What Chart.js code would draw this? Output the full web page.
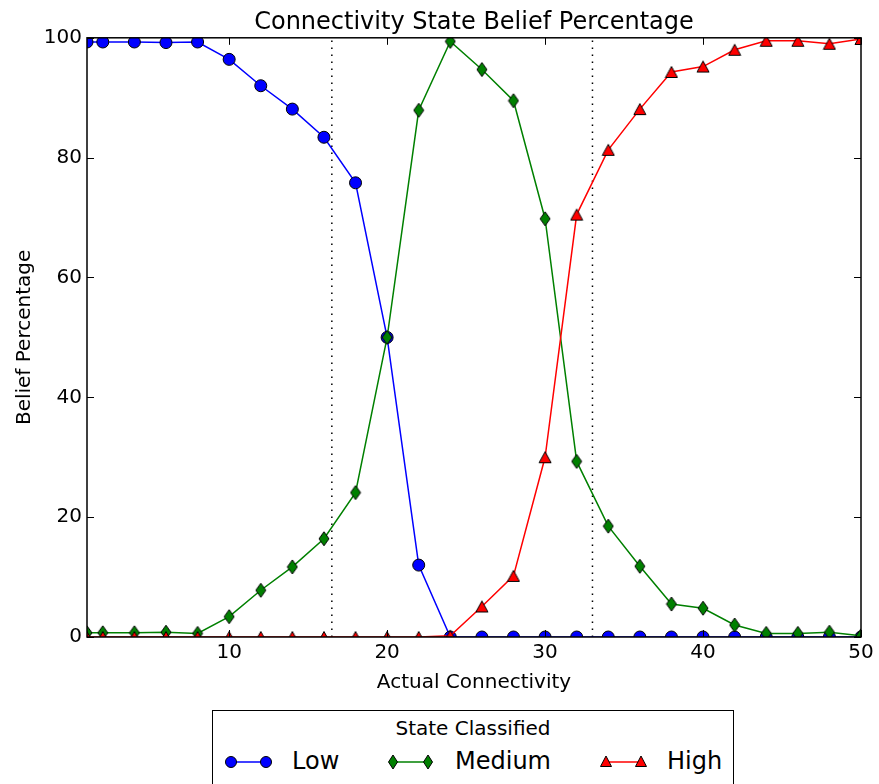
<!DOCTYPE html>
<html>
<head>
<meta charset="utf-8">
<script src="https://cdn.jsdelivr.net/npm/chart.js@4.4.1/dist/chart.umd.min.js"></script>
<style>
  html, body { margin: 0; padding: 0; background: #fff; }
  #wrap { position: relative; width: 879px; height: 784px; overflow: hidden; }
  #legend {
    position: absolute; left: 212px; top: 710px; width: 522px; height: 100px;
    border: 1.5px solid #000; background: #fff; box-sizing: border-box;
    font-family: "DejaVu Sans", sans-serif; color: #000;
  }
  #legend .title { position: absolute; left: 0; right: 0; top: 5px; text-align: center; font-size: 20px; line-height: 24px; }
  #legend .lbl { position: absolute; top: 36px; font-size: 24px; line-height: 29px; }
  #legend svg { position: absolute; left: 0; top: 0; }
</style>
</head>
<body>
<div id="wrap">
  <canvas id="chart" width="879" height="784"></canvas>
  <div id="legend">
    <svg width="522" height="100"></svg>
    <div class="title">State Classified</div>
  </div>
</div>
<script>
(function () {
  const connectivity = [1, 2, 4, 6, 8, 10, 12, 14, 16, 18, 20, 22, 24, 26, 28, 30, 32, 34, 36, 38, 40, 42, 44, 46, 48, 50];
  const lowBelief = [99.3, 99.3, 99.3, 99.2, 99.3, 96.4, 92.0, 88.1, 83.4, 75.8, 50.0, 12.0, 0, 0, 0, 0, 0, 0, 0, 0, 0, 0, 0, 0, 0, 0];
  const mediumBelief = [0.7, 0.7, 0.7, 0.8, 0.6, 3.4, 7.8, 11.7, 16.4, 24.1, 50.0, 87.9, 99.4, 94.7, 89.5, 69.8, 29.3, 18.5, 11.8, 5.5, 4.8, 2.0, 0.6, 0.6, 0.8, 0.2];
  const highBelief = [0, 0, 0, 0, 0, 0, 0, 0, 0, 0, 0, 0, 0.2, 5.1, 10.2, 30.0, 70.5, 81.3, 88.1, 94.3, 95.2, 98.0, 99.5, 99.5, 99.0, 99.8];
  const splitLines = [16.5, 33];
  const xTicks = [10, 20, 30, 40, 50];
  const yTicks = [0, 20, 40, 60, 80, 100];

  const FONT = "'DejaVu Sans', sans-serif";

  // matplotlib-like markers as small canvases
  function marker(kind, fill) {
    const c = document.createElement("canvas");
    const w = kind === "diamond" ? 12 : 14, h = kind === "diamond" ? 16 : 14;
    c.width = w; c.height = h;
    const g = c.getContext("2d");
    g.beginPath();
    if (kind === "diamond") {
      g.moveTo(6, 1); g.lineTo(11, 8); g.lineTo(6, 15); g.lineTo(1, 8);
    } else {
      g.moveTo(7, 1.5); g.lineTo(13, 12.5); g.lineTo(1, 12.5);
    }
    g.closePath();
    g.fillStyle = fill; g.fill();
    g.lineWidth = 1; g.strokeStyle = "#000"; g.stroke();
    return c;
  }

  const pts = (ys) => connectivity.map((x, i) => ({ x: x, y: ys[i] }));

  const datasets = [
    {
      label: "Low", data: pts(lowBelief), borderColor: "#0000ff", borderWidth: 1.5,
      pointStyle: "circle", pointRadius: 6, pointBackgroundColor: "#0000ff",
      pointBorderColor: "#000", pointBorderWidth: 1, clip: 0, order: 3,
    },
    {
      label: "Medium", data: pts(mediumBelief), borderColor: "#008000", borderWidth: 1.5,
      pointStyle: marker("diamond", "#008000"), pointRadius: 7, clip: 0, order: 2,
    },
    {
      label: "High", data: pts(highBelief), borderColor: "#ff0000", borderWidth: 1.5,
      pointStyle: marker("triangle", "#ff0000"), pointRadius: 7, clip: 0, order: 1,
    },
  ];
  splitLines.forEach((v) => {
    datasets.push({
      label: "split", data: [{ x: v, y: 0 }, { x: v, y: 100 }], borderColor: "#000",
      borderWidth: 1.5, borderDash: [1.5, 5.5], pointRadius: 0, clip: 0, order: 10,
    });
  });

  // inward tick marks + frame, like the classic matplotlib axes
  const frame = {
    id: "frame",
    afterLayout(chart) {
      // center the title over the plot area rather than the whole canvas
      const t = chart.titleBlock;
      if (t) {
        t.left = chart.chartArea.left;
        t.right = chart.chartArea.right;
        t.width = t.right - t.left;
      }
    },
    afterDatasetsDraw(chart) {
      const { ctx, chartArea: a, scales } = chart;
      ctx.save();
      ctx.strokeStyle = "#000";
      ctx.lineWidth = 1;
      xTicks.forEach((v) => {
        const px = Math.round(scales.x.getPixelForValue(v)) + 0.5;
        ctx.beginPath();
        ctx.moveTo(px, a.bottom); ctx.lineTo(px, a.bottom - 7);
        ctx.moveTo(px, a.top); ctx.lineTo(px, a.top + 7);
        ctx.stroke();
      });
      yTicks.forEach((v) => {
        const py = Math.round(scales.y.getPixelForValue(v)) + 0.5;
        ctx.beginPath();
        ctx.moveTo(a.left, py); ctx.lineTo(a.left + 7, py);
        ctx.moveTo(a.right, py); ctx.lineTo(a.right - 7, py);
        ctx.stroke();
      });
      ctx.lineWidth = 1.5;
      ctx.strokeRect(a.left, a.top, a.right - a.left, a.bottom - a.top);
      ctx.restore();
    },
  };

  new Chart(document.getElementById("chart").getContext("2d"), {
    type: "line",
    data: { datasets: datasets },
    plugins: [frame],
    options: {
      responsive: false,
      animation: false,
      events: [],
      layout: { padding: { left: 0, right: 18, top: 0, bottom: 87 } },
      plugins: {
        legend: { display: false },
        tooltip: { enabled: false },
        title: {
          display: true,
          text: "Connectivity State Belief Percentage",
          color: "#000",
          font: { family: FONT, size: 24, weight: "normal", lineHeight: 1.2 },
          padding: { top: 8, bottom: 1 },
        },
      },
      scales: {
        x: {
          type: "linear", min: 1, max: 50,
          afterBuildTicks: (s) => { s.ticks = xTicks.map((v) => ({ value: v })); },
          afterFit: (s) => { s.height = 60; },
          grid: { display: false, drawTicks: false },
          border: { display: false },
          ticks: { color: "#000", font: { family: FONT, size: 20 }, padding: 4, maxRotation: 0 },
          title: {
            display: true, text: "Actual Connectivity", color: "#000",
            font: { family: FONT, size: 20 }, padding: { top: 0, bottom: 2 },
          },
        },
        y: {
          type: "linear", min: 0, max: 100,
          afterBuildTicks: (s) => { s.ticks = yTicks.map((v) => ({ value: v })); },
          afterFit: (s) => { s.width = 87; },
          grid: { display: false, drawTicks: false },
          border: { display: false },
          ticks: { color: "#000", font: { family: FONT, size: 20 }, padding: 5 },
          title: {
            display: true, text: "Belief Percentage", color: "#000",
            font: { family: FONT, size: 20 }, padding: { top: 13, bottom: 0 },
          },
        },
      },
    },
  });

  // legend: line with a marker at both ends, then the label
  const svg = document.querySelector("#legend svg");
  const legendItems = [
    { label: "Low", color: "#0000ff", kind: "circle", x0: 18, x1: 53, textX: 79 },
    { label: "Medium", color: "#008000", kind: "diamond", x0: 180, x1: 215, textX: 242 },
    { label: "High", color: "#ff0000", kind: "triangle", x0: 393, x1: 428, textX: 454 },
  ];
  const cy = 51;
  const ns = "http://www.w3.org/2000/svg";
  function add(tag, attrs) {
    const el = document.createElementNS(ns, tag);
    for (const k in attrs) el.setAttribute(k, attrs[k]);
    svg.appendChild(el);
  }
  legendItems.forEach((it) => {
    add("line", { x1: it.x0, y1: cy, x2: it.x1, y2: cy, stroke: it.color, "stroke-width": 1.5 });
    [it.x0, it.x1].forEach((mx) => {
      const common = { fill: it.color, stroke: "#000", "stroke-width": 1 };
      if (it.kind === "circle") add("circle", Object.assign({ cx: mx, cy: cy, r: 5.5 }, common));
      else if (it.kind === "diamond")
        add("polygon", Object.assign({ points: `${mx},${cy - 7} ${mx + 4.5},${cy} ${mx},${cy + 7} ${mx - 4.5},${cy}` }, common));
      else
        add("polygon", Object.assign({ points: `${mx},${cy - 6} ${mx + 5.5},${cy + 4.5} ${mx - 5.5},${cy + 4.5}` }, common));
    });
    const t = document.createElement("div");
    t.className = "lbl";
    t.style.left = it.textX + "px";
    t.textContent = it.label;
    document.getElementById("legend").appendChild(t);
  });
})();
</script>
</body>
</html>
